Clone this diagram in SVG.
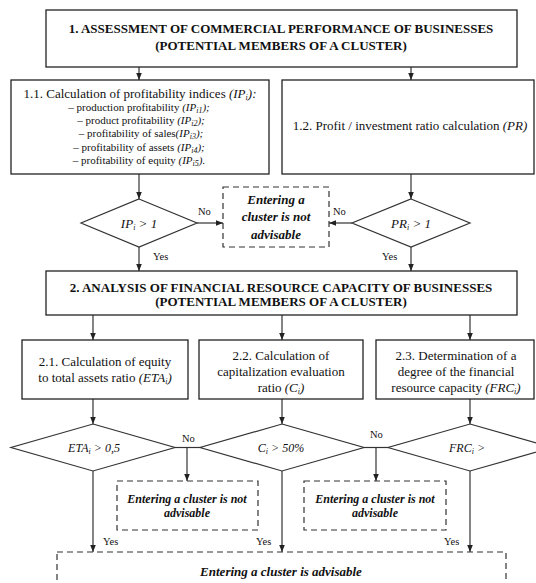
<svg xmlns="http://www.w3.org/2000/svg" width="536" height="583" viewBox="0 0 536 583">
<style>
.box{fill:#fff;stroke:#222;stroke-width:1.3}
.dbox{fill:#fff;stroke:#333;stroke-width:1.2;stroke-dasharray:6,4}
.dia{fill:#fff;stroke:#333;stroke-width:1.2}
.ln{fill:none;stroke:#333;stroke-width:1.2}
.arr{fill:none;stroke:#333;stroke-width:1.2;marker-end:url(#ah)}
text{font-family:"Liberation Serif","Times New Roman",serif;fill:#111}
.hd{font-size:13px;font-weight:bold;text-anchor:middle}
.t{font-size:13px;text-anchor:middle}
.s{font-size:11px;text-anchor:middle}
.it{font-style:italic}
.bi{font-size:13px;font-style:italic;font-weight:bold;text-anchor:middle}
.lb{font-size:10.5px}
.sub{font-size:8px}
</style>
<defs>
<marker id="ah" viewBox="0 0 10 10" refX="10" refY="5" markerWidth="7" markerHeight="7" markerUnits="userSpaceOnUse" orient="auto">
<path d="M0,1 L10,5 L0,9 z" fill="#222"/>
</marker>
</defs>

<g id="connectors">
<line class="arr" x1="139" y1="67" x2="139" y2="80"/>
<line class="arr" x1="411" y1="67" x2="411" y2="80"/>
<line class="arr" x1="139" y1="174" x2="139" y2="199"/>
<line class="arr" x1="411" y1="174" x2="411" y2="199"/>
<line class="arr" x1="197" y1="223" x2="223" y2="223"/>
<line class="arr" x1="352" y1="223" x2="329" y2="223"/>
<line class="arr" x1="139" y1="247" x2="139" y2="271"/>
<line class="arr" x1="411" y1="247" x2="411" y2="271"/>
<line class="arr" x1="93" y1="315" x2="93" y2="340"/>
<line class="arr" x1="282" y1="315" x2="282" y2="340"/>
<line class="arr" x1="470" y1="315" x2="470" y2="340"/>
<line class="arr" x1="93" y1="399" x2="93" y2="424"/>
<line class="arr" x1="282" y1="399" x2="282" y2="424"/>
<line class="arr" x1="470" y1="399" x2="470" y2="424"/>
<line class="ln" x1="175" y1="447.5" x2="200" y2="447.5"/>
<line class="arr" x1="187" y1="447.5" x2="187" y2="481"/>
<line class="ln" x1="364" y1="447.5" x2="388" y2="447.5"/>
<line class="arr" x1="376" y1="447.5" x2="376" y2="481"/>
<line class="arr" x1="93" y1="471" x2="93" y2="552"/>
<line class="arr" x1="282" y1="471" x2="282" y2="552"/>
<line class="arr" x1="470" y1="471" x2="470" y2="552"/>
<text class="lb" x="198" y="215">No</text>
<text class="lb" x="333" y="215">No</text>
<text class="lb" x="153" y="260">Yes</text>
<text class="lb" x="382" y="260">Yes</text>
<text class="lb" x="182" y="442">No</text>
<text class="lb" x="370" y="438">No</text>
<text class="lb" x="103" y="545">Yes</text>
<text class="lb" x="256" y="545">Yes</text>
<text class="lb" x="444" y="545">Yes</text>
</g>

<g id="n1">
<rect class="box" x="46" y="10" width="471" height="57"/>
<text class="hd" x="281" y="33">1. ASSESSMENT OF COMMERCIAL PERFORMANCE OF BUSINESSES</text>
<text class="hd" x="281" y="50">(POTENTIAL MEMBERS OF A CLUSTER)</text>
</g>

<g id="n11">
<rect class="box" x="11" y="80" width="258" height="94"/>
<text class="t" x="140" y="97.5">1.1. Calculation of profitability indices <tspan class="it">(IP<tspan class="sub" dy="2">i</tspan><tspan dy="-2">):</tspan></tspan></text>
<text class="s" x="139" y="111">– production profitability <tspan class="it">(IP<tspan class="sub" dy="2">i1</tspan><tspan dy="-2">);</tspan></tspan></text>
<text class="s" x="141" y="124">– product profitability <tspan class="it">(IP<tspan class="sub" dy="2">i2</tspan><tspan dy="-2">);</tspan></tspan></text>
<text class="s" x="141" y="137">– profitability of sales<tspan class="it">(IP<tspan class="sub" dy="2">i3</tspan><tspan dy="-2">);</tspan></tspan></text>
<text class="s" x="139" y="151">– profitability of assets <tspan class="it">(IP<tspan class="sub" dy="2">i4</tspan><tspan dy="-2">);</tspan></tspan></text>
<text class="s" x="139" y="164">– profitability of equity <tspan class="it">(IP<tspan class="sub" dy="2">i5</tspan><tspan dy="-2">).</tspan></tspan></text>
</g>

<g id="n12">
<rect class="box" x="282" y="80" width="252" height="94"/>
<text class="t" x="410" y="129.5">1.2. Profit / investment ratio calculation <tspan class="it">(PR)</tspan></text>
</g>

<g id="d1">
<polygon class="dia" points="139,199 197,223 139,247 81,223"/>
<text class="t it" x="139" y="227.5">IP<tspan class="sub" dy="2">i</tspan><tspan dy="-2"> &gt; 1</tspan></text>
</g>

<g id="d2">
<polygon class="dia" points="411,199 470,223 411,247 352,223"/>
<text class="t it" x="411" y="227.5">PR<tspan class="sub" dy="2">i</tspan><tspan dy="-2"> &gt; 1</tspan></text>
</g>

<g id="no1">
<rect class="dbox" x="223" y="187" width="106" height="60"/>
<text class="bi" x="276" y="204">Entering  a</text>
<text class="bi" x="276" y="221">cluster is not</text>
<text class="bi" x="276" y="239">advisable</text>
</g>

<g id="n2">
<rect class="box" x="46" y="271" width="471" height="44"/>
<text class="hd" x="281" y="292">2. ANALYSIS OF FINANCIAL RESOURCE CAPACITY OF BUSINESSES</text>
<text class="hd" x="281" y="305.5">(POTENTIAL MEMBERS OF A CLUSTER)</text>
</g>

<g id="n21">
<rect class="box" x="22" y="340" width="166" height="59"/>
<text class="t" x="105" y="365.5">2.1. Calculation of equity</text>
<text class="t" x="105" y="381.5">to total assets ratio <tspan class="it">(ETA<tspan class="sub" dy="2">i</tspan><tspan dy="-2">)</tspan></tspan></text>
</g>

<g id="n22">
<rect class="box" x="199" y="340" width="164" height="59"/>
<text class="t" x="281" y="359.5">2.2. Calculation of</text>
<text class="t" x="281" y="375.5">capitalization evaluation</text>
<text class="t" x="281" y="391.5">ratio <tspan class="it">(C<tspan class="sub" dy="2">i</tspan><tspan dy="-2">)</tspan></tspan></text>
</g>

<g id="n23">
<rect class="box" x="376" y="340" width="158" height="59"/>
<text class="t" x="456" y="359.5">2.3. Determination of a</text>
<text class="t" x="456" y="375.5">degree of the financial</text>
<text class="t" x="456" y="391.5">resource capacity <tspan class="it">(FRC<tspan class="sub" dy="2">i</tspan><tspan dy="-2">)</tspan></tspan></text>
</g>

<g id="d3">
<polygon class="dia" points="93,424 175,447.5 93,471 11,447.5"/>
<text class="t it" x="94" y="452" style="font-size:12px">ETA<tspan class="sub" dy="2">i</tspan><tspan dy="-2"> &gt; 0,5</tspan></text>
</g>

<g id="d4">
<polygon class="dia" points="282,424 364,447.5 282,471 200,447.5"/>
<text class="t it" x="281" y="452" style="font-size:12px">C<tspan class="sub" dy="2">i</tspan><tspan dy="-2"> &gt; 50%</tspan></text>
</g>

<g id="d5">
<polygon class="dia" points="470,424 552,447.5 470,471 388,447.5"/>
<text class="t it" x="467" y="452" style="font-size:12px">FRC<tspan class="sub" dy="2">i</tspan><tspan dy="-2"> &gt;</tspan></text>
</g>

<g id="no2">
<rect class="dbox" x="117" y="481" width="141" height="49"/>
<text class="bi" x="187" y="503" style="font-size:12px">Entering a cluster is not</text>
<text class="bi" x="187" y="517" style="font-size:12px">advisable</text>
</g>

<g id="no3">
<rect class="dbox" x="304" y="481" width="142" height="49"/>
<text class="bi" x="375" y="503" style="font-size:12px">Entering a cluster is not</text>
<text class="bi" x="375" y="517" style="font-size:12px">advisable</text>
</g>

<g id="yes">
<rect class="dbox" x="57" y="552" width="449" height="40"/>
<text class="bi" x="281" y="576">Entering  a cluster is advisable</text>
</g>
</svg>
